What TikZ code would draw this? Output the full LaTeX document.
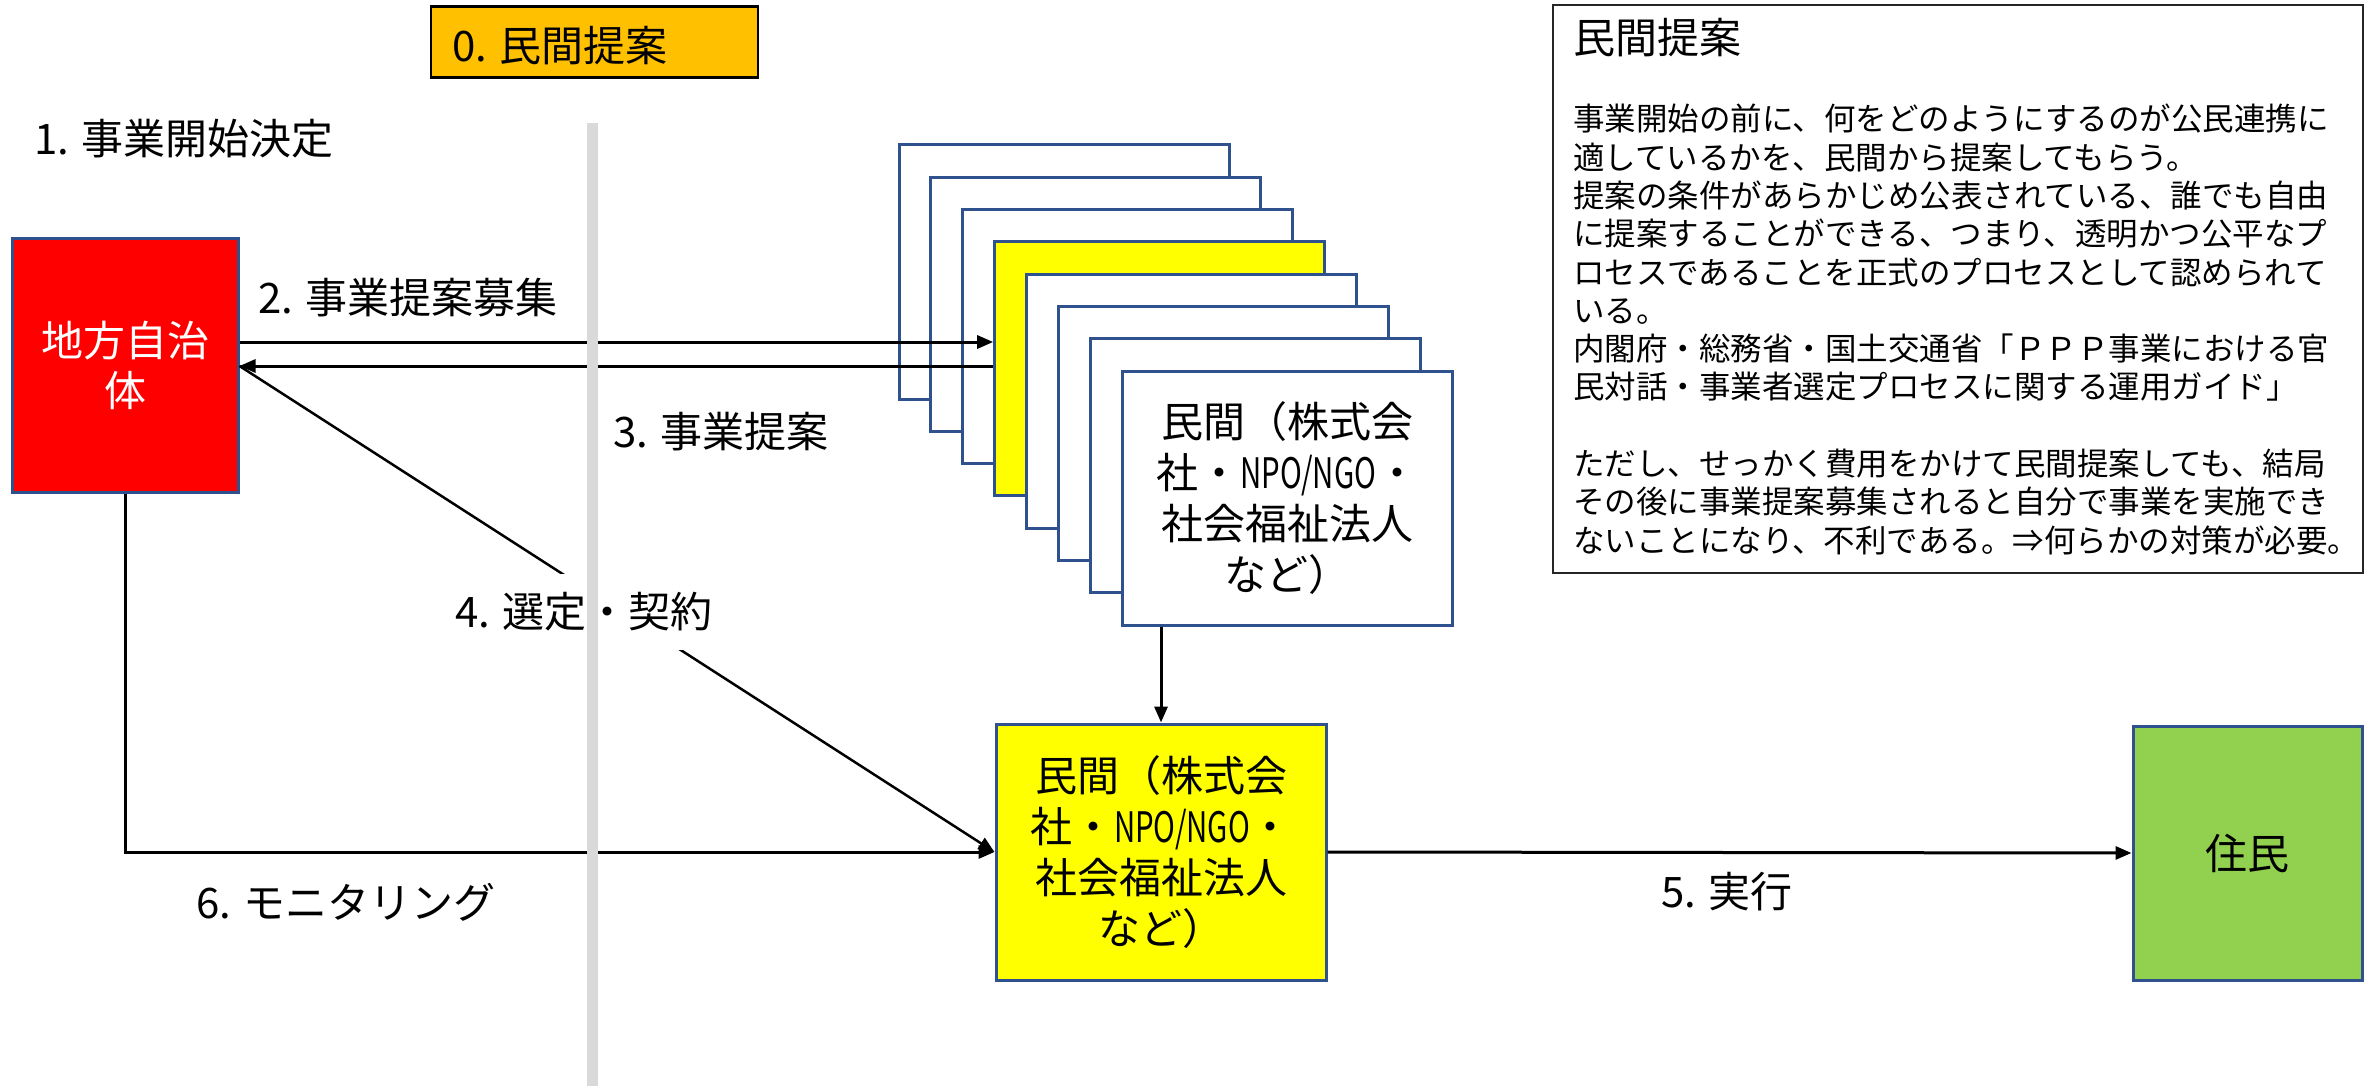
\documentclass[tikz,border=0pt]{standalone}
\usepackage{fontspec}
\usepackage{graphicx}
\setmainfont{Noto Sans CJK JP}
\usetikzlibrary{arrows.meta}
\definecolor{bord}{HTML}{2F528F}
\definecolor{redf}{HTML}{FF0000}
\definecolor{yelf}{HTML}{FFFF00}
\definecolor{grnf}{HTML}{92D050}
\definecolor{orgf}{HTML}{FFC000}
\definecolor{grayl}{HTML}{D9D9D9}
\newcommand{\myfs}[2]{\fontsize{#1}{#2}\selectfont}
\newcommand{\ngo}{\scalebox{0.7}[1]{NPO/NGO}}
\begin{document}
\begin{tikzpicture}[x=1pt,y=-1pt,
  card/.style={draw=bord, line width=3pt, minimum width=330pt, minimum height=254pt,
    inner sep=0pt, align=center, font=\myfs{42}{51}},
  lbl/.style={inner sep=0pt, font=\myfs{42}{50}},
  arr/.style={-{Triangle[length=16pt,width=13pt]}, line width=3pt, black}]
\useasboundingbox (0,0) rectangle (2374,1086);

% local government
\node[draw=bord, fill=redf, line width=3pt, minimum width=226pt, minimum height=254pt,
  inner sep=0pt, align=center, text=white, font=\myfs{42}{50}] (lg) at (125,365) {地方自治\\体};

% stacked proposal cards
\foreach \i/\f in {0/white,1/white,2/white,3/yelf,4/white,5/white,6/white}
  \node[card, fill=\f] (c\i) at (1064+31.9*\i, 272+32.3*\i) {};
\node[card, fill=white] (c7) at (1287.3,498.1) {民間（株式会\\社・\ngo・\\社会福祉法人\\など）};

% selected private body
\node[card, fill=yelf, minimum height=256pt] (priv) at (1161,852) {民間（株式会\\社・\ngo・\\社会福祉法人\\など）};

% residents
\node[draw=bord, fill=grnf, line width=3pt, minimum width=229pt, minimum height=254pt,
  inner sep=0pt, font=\myfs{42}{50}] (res) at (2247.5,853) {住民};

% step 0 box
\node[draw=black, fill=orgf, line width=2.5pt, minimum width=327pt, minimum height=71pt,
  inner sep=0pt] (ob) at (594.5,42) {};
\node[lbl, anchor=west] (lab0) at (452,46) {0. 民間提案};

% labels
\node[lbl] (lab1) at (184,139) {1. 事業開始決定};
\node[lbl] (lab2) at (408,298) {2. 事業提案募集};
\node[lbl] (lab3) at (721,432) {3. 事業提案};
\node[lbl] (lab5) at (1727,892) {5. 実行};
\node[lbl] (lab6) at (346,902) {6. モニタリング};

% connectors
\draw[arr] (lg.east |- 0,342) -- (c3.west |- 0,342);
\draw[arr] (c3.west |- 0,366) -- (lg.east |- 0,366);
\draw[arr, line width=2.5pt] (lg.east |- 0,366) -- (priv.west);
\node[lbl, fill=white, minimum height=76pt, inner xsep=6pt] (lab4) at (584,612) {4. 選定・契約};
\draw[arr] (priv.north |- c7.south) -- (priv.north);
\draw[arr] (priv.east) -- (res.west);
\draw[arr] (lg.south) |- (priv.west);

% divider
\draw[grayl, line width=11pt] (592,123) -- (592,1086);

% explanation panel
\node[draw=black!85, line width=2pt, minimum width=810pt, minimum height=568pt,
  inner sep=0pt] (panel) at (1957.5,289) {};
\node[anchor=west, inner sep=0pt, font=\myfs{42}{50}] (ptitle) at (1573,38) {民間提案};
\node[anchor=north west, inner sep=0pt, align=left, font=\myfs{31.5}{38.3}] (pbody) at (1573,104) {%
事業開始の前に、何をどのようにするのが公民連携に\\
適しているかを、民間から提案してもらう。\\
提案の条件があらかじめ公表されている、誰でも自由\\
に提案することができる、つまり、透明かつ公平なプ\\
ロセスであることを正式のプロセスとして認められて\\
いる。\\
内閣府・総務省・国土交通省「ＰＰＰ事業における官\\
民対話・事業者選定プロセスに関する運用ガイド」\\[38.3pt]
ただし、せっかく費用をかけて民間提案しても、結局\\
その後に事業提案募集されると自分で事業を実施でき\\
ないことになり、不利である。⇒何らかの対策が必要。};
\end{tikzpicture}
\end{document}
